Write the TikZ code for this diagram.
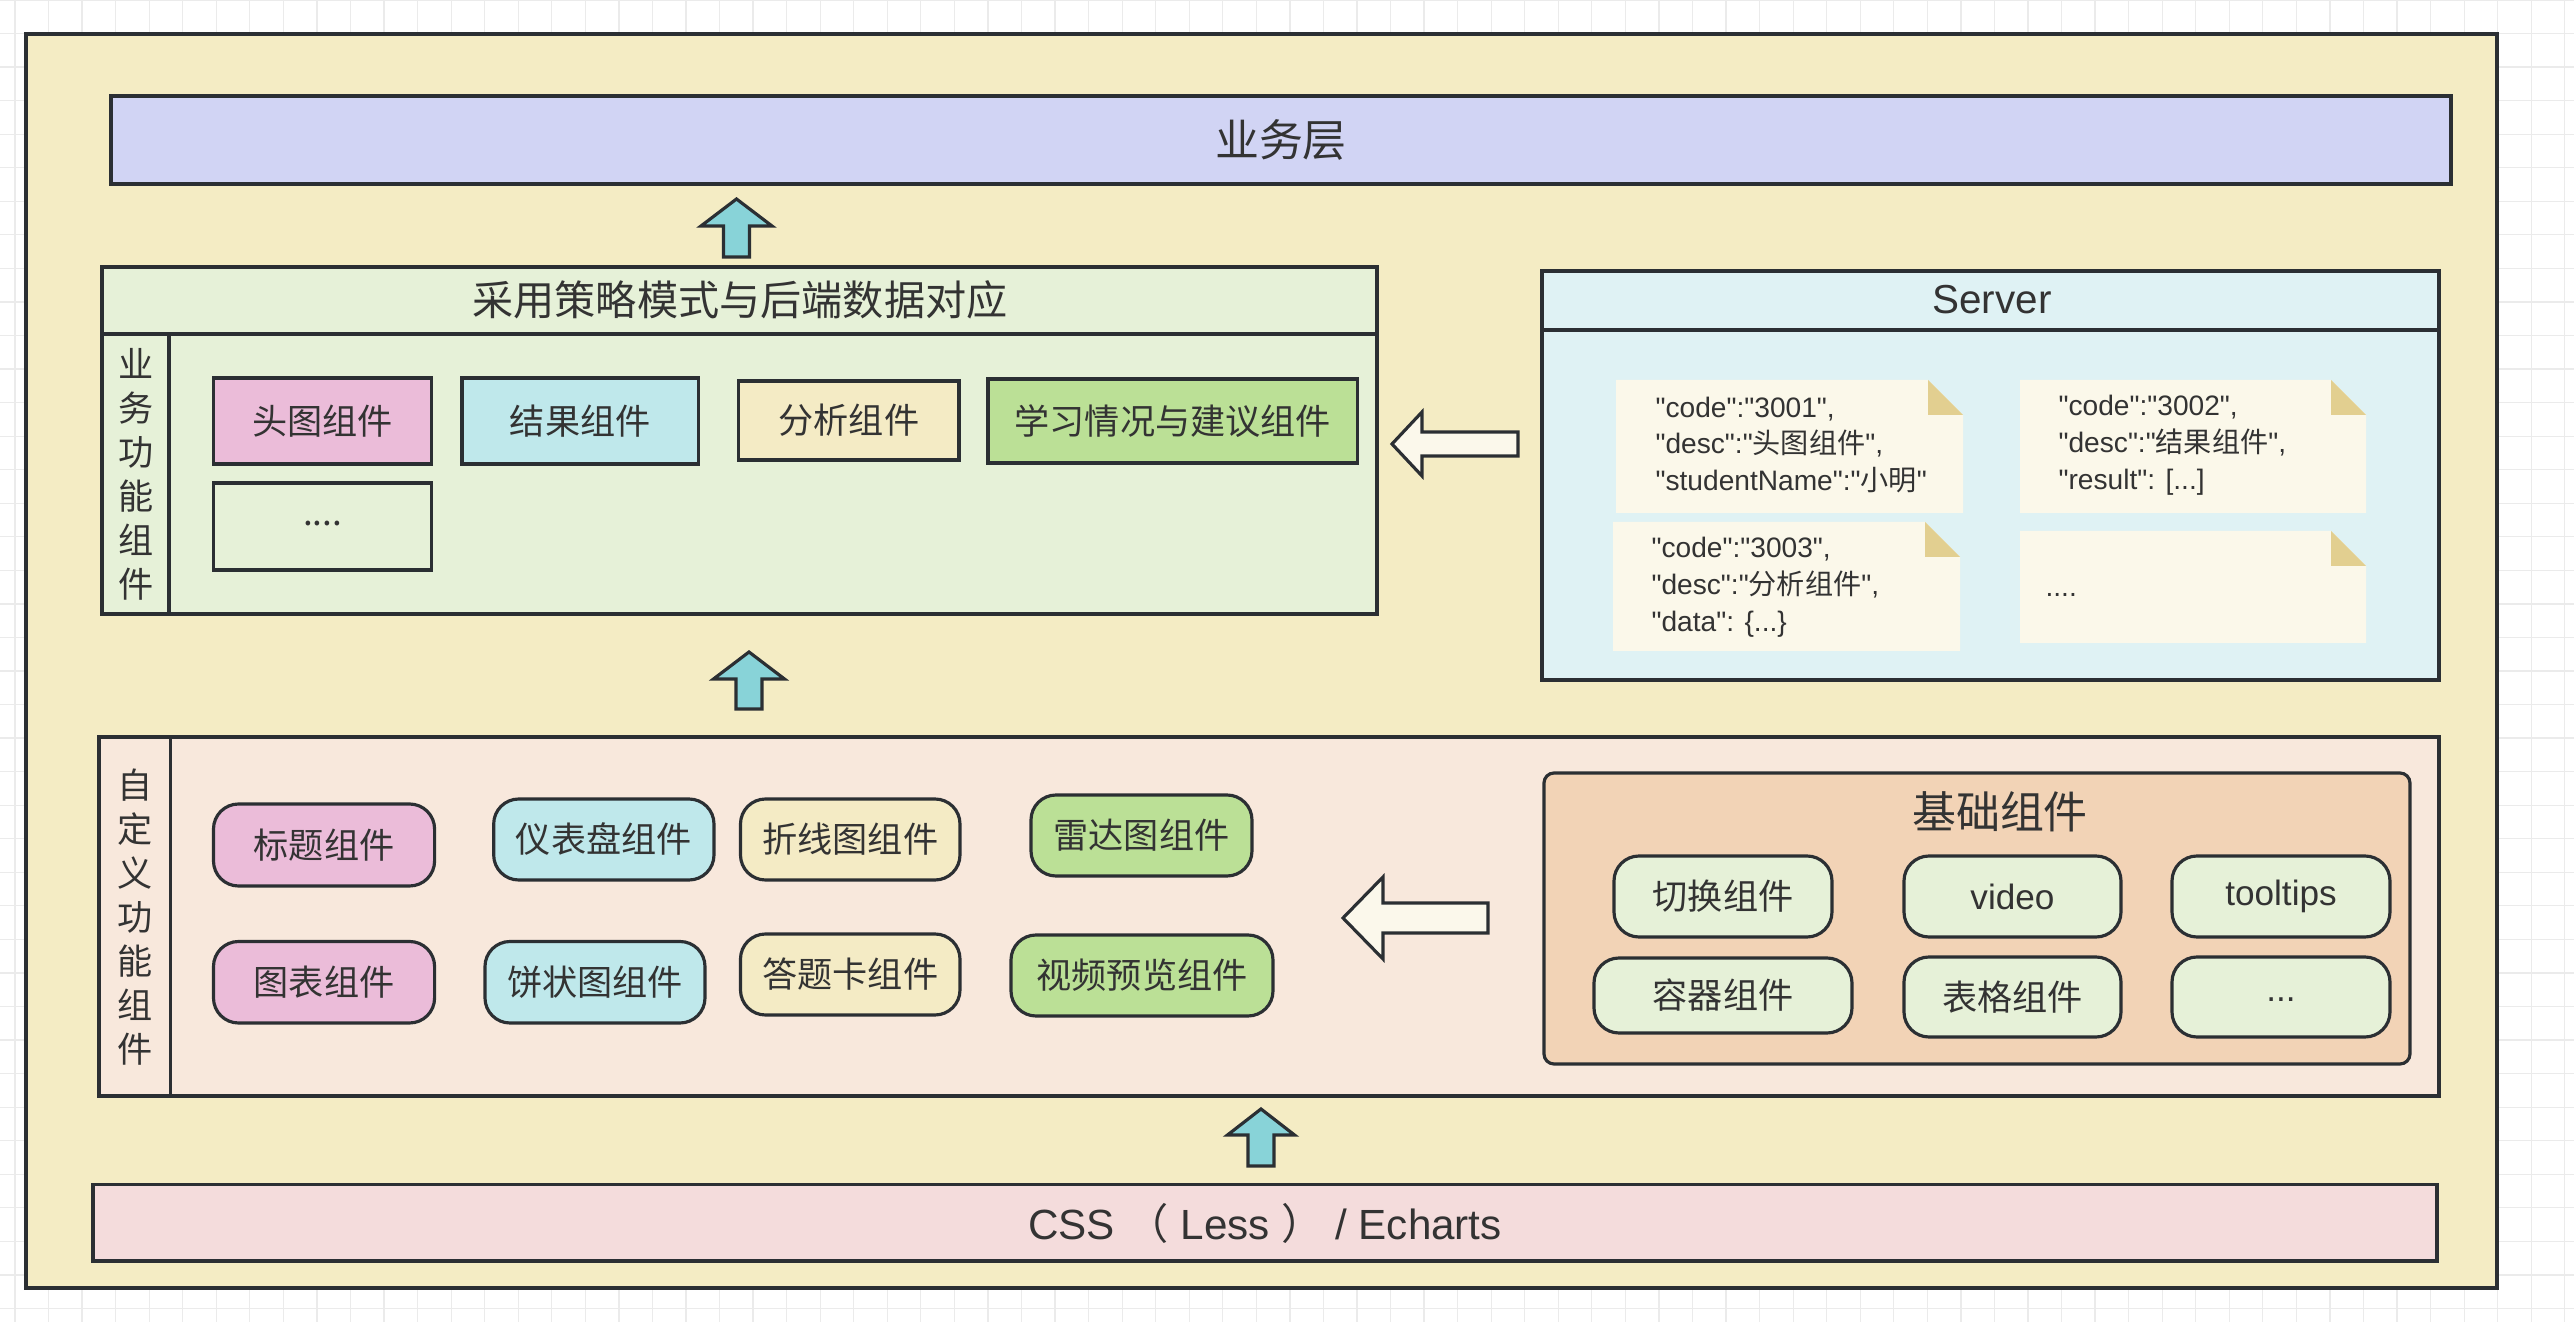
\documentclass[tikz,border=0pt]{standalone}
\usepackage{fontspec}
\setmainfont{Liberation Sans}
\newfontfamily\cjk{Noto Sans CJK SC}
\newfontfamily\notefont{Liberation Sans}

\definecolor{lineC}{HTML}{2B2F33}
\definecolor{txtC}{HTML}{333333}
\definecolor{gridC}{HTML}{EBEBEB}
\definecolor{outerC}{HTML}{F4ECC4}
\definecolor{topC}{HTML}{D1D4F4}
\definecolor{bizC}{HTML}{E6F1D8}
\definecolor{serverC}{HTML}{DFF2F4}
\definecolor{customC}{HTML}{F8E8DC}
\definecolor{baseC}{HTML}{F2D3B6}
\definecolor{pinkC}{HTML}{EBBCD9}
\definecolor{cyanC}{HTML}{BFE8EB}
\definecolor{beigeC}{HTML}{F4EBC5}
\definecolor{greenC}{HTML}{BBE096}
\definecolor{cssC}{HTML}{F4DCDC}
\definecolor{upC}{HTML}{88D3D8}
\definecolor{leftC}{HTML}{FBF8EB}
\definecolor{noteC}{HTML}{FBF8EA}
\definecolor{foldC}{HTML}{E2CF90}

\tikzstyle{archboxes}=[%
    every path/.style = {%
        lineC,
        line width=0.9pt
    },%
    gridLine/.style={%
        draw=gridC,
        line width=0.35pt
    },
    roundBox/.style={rounded corners=0.25cm},
    boxText/.style={font={\cjk\fontsize{10}{12}\selectfont}, text=txtC},
    titleText/.style={font={\cjk\fontsize{12.5}{15}\selectfont}, text=txtC},
    sideText/.style={font={\cjk\fontsize{10}{12.5}\selectfont}, text=txtC, align=center},
    noteText/.style={font={\notefont\fontsize{8}{10.5}\selectfont}, text=txtC, align=left, anchor=west, inner sep=0pt},
    noteBody/.style={fill=noteC, draw=none},
    noteFold/.style={fill=foldC, draw=none},
    upArrow/.style={fill=upC},
    leftArrow/.style={fill=leftC}
]

\begin{document}
\begin{tikzpicture}[
	x=0.01cm, y=-0.01cm,
	archboxes
]
	\fill[white] (0,0) rectangle (2574,1322);
	\useasboundingbox (0,0) rectangle (2574,1322);

	\foreach \gx in {0,...,76} {
		\draw[gridLine] ({15+\gx*33.55},0) -- ++(0,1322);
	}
	\foreach \gy in {0,...,39} {
		\draw[gridLine] (0,{\gy*33.55}) -- ++(2574,0);
	}

	\draw[fill=outerC] (26,34) rectangle (2497,1288);

	\draw[fill=topC] (111,96) rectangle (2451,184);
	\node[titleText] (yewuLayer) at (1281,140) {业务层};

	\foreach \cx/\ty/\hy/\by/\hw in {736.5/199/226/257/35.5, 749/652/679/709/35.5, 1261/1109/1135/1166/33.5} {
		\draw[upArrow] (\cx-13,\by) -- (\cx-13,\hy) -- (\cx-\hw,\hy) -- (\cx,\ty)
			-- (\cx+\hw,\hy) -- (\cx+13,\hy) -- (\cx+13,\by) -- cycle;
	}

	\draw[fill=bizC] (102,267) rectangle (1377,614);
	\draw (102,334) -- (1377,334);
	\draw (169,334) -- (169,614);
	\node[titleText, font={\cjk\fontsize{11.7}{14}\selectfont}] (strategyTitle) at (740,300) {采用策略模式与后端数据对应};
	\node[sideText] (bizSide) at (136,474) {业\\务\\功\\能\\组\\件};

	\foreach \nm/\xa/\ya/\xb/\yb/\col/\txt in {
		touTu/213.5/378/431.7/464/pinkC/头图组件,
		jieGuo/462/378/698.6/464/cyanC/结果组件,
		fenXi/738.8/381/959/460/beigeC/分析组件,
		xueXi/988/379/1357.6/463/greenC/学习情况与建议组件} {
		\draw[fill=\col] (\xa,\ya) rectangle (\xb,\yb);
		\node[boxText] (\nm) at ({(\xa+\xb)/2},{(\ya+\yb)/2}) {\txt};
	}
	\draw[fill=bizC] (213.5,483) rectangle (431.7,570);
	\node[boxText] (moreBiz) at (322.6,524) {....};

	\draw[leftArrow] (1392,444) -- (1422,412) -- (1422,432) -- (1518,432)
		-- (1518,456) -- (1422,456) -- (1422,476) -- cycle;

	\draw[fill=serverC] (1542,271) rectangle (2439,680);
	\draw (1542,330) -- (2439,330);
	\node[text=txtC, font={\fontsize{11.5}{14}\selectfont}] (serverTitle) at (1992,300) {Server};

	\foreach \xa/\ya/\xb/\yb in {1616/380/1963/513, 2020/380/2366/513, 1613/522/1960/651, 2020/531/2366/643} {
		\fill[noteBody] (\xa,\ya) -- (\xb-35,\ya) -- (\xb,\ya+35) -- (\xb,\yb) -- (\xa,\yb) -- cycle;
		\fill[noteFold] (\xb-35,\ya) -- (\xb-35,\ya+35) -- (\xb,\ya+35) -- cycle;
	}
	\node[noteText] (noteA) at (1654,445) {"code":"3001",\\"desc":"{\cjk 头图组件}",\\"studentName":"{\cjk 小明}"};
	\node[noteText] (noteB) at (2057,445) {"code":"3002",\\"desc":"{\cjk 结果组件}",\\"result": [...]};
	\node[noteText] (noteC) at (1650,587) {"code":"3003",\\"desc":"{\cjk 分析组件}",\\"data": \{...\}};
	\node[noteText] (noteD) at (2044,595) {....};

	\draw[fill=customC] (99,737) rectangle (2439,1096);
	\draw (170.5,737) -- (170.5,1096);
	\node[sideText] (customSide) at (135,917) {自\\定\\义\\功\\能\\组\\件};

	\draw[leftArrow] (1343,918) -- (1383,877) -- (1383,903) -- (1488,903)
		-- (1488,933) -- (1383,933) -- (1383,959) -- cycle;

	\draw[fill=baseC, rounded corners=0.1cm] (1544,773) rectangle (2410,1064);
	\node[titleText] (baseTitle) at (2000,812) {基础组件};

	\foreach \nm/\xa/\ya/\xb/\yb/\col/\txt in {
		biaoTi/213.5/804/434.6/886/pinkC/标题组件,
		yiBiao/493.7/799/714/880/cyanC/仪表盘组件,
		zheXian/740.5/799/960/880/beigeC/折线图组件,
		leiDa/1031/795/1252/876/greenC/雷达图组件,
		tuBiao/213.5/941.5/434.6/1023/pinkC/图表组件,
		bingZhuang/485/941.5/705/1023/cyanC/饼状图组件,
		daTiKa/740.5/934/960/1015/beigeC/答题卡组件,
		shiPin/1011/935/1273/1016/greenC/视频预览组件,
		qieHuan/1614/856/1832/937/bizC/切换组件,
		video/1904/856/2121/937/bizC/{\rmfamily video},
		tooltips/2172/856/2390/937/bizC/{\rmfamily tooltips},
		rongQi/1594/958/1852/1033/bizC/容器组件,
		biaoGe/1904/957/2121/1037/bizC/表格组件} {
		\draw[roundBox, fill=\col] (\xa,\ya) rectangle (\xb,\yb);
		\node[boxText] (\nm) at ({(\xa+\xb)/2},{(\ya+\yb)/2}) {\txt};
	}
	\draw[roundBox, fill=bizC] (2172,957) rectangle (2390,1037);
	\node[boxText, font={\fontsize{10}{12}\selectfont}] (moreBase) at (2281,1000) {...};

	\draw[fill=cssC] (93,1184.5) rectangle (2437,1261);
	\node[text=txtC, font={\fontsize{12}{14}\selectfont}] (cssLayer) at (1265,1223) {CSS {\cjk （} Less {\cjk ）} / Echarts};
\end{tikzpicture}
\end{document}
